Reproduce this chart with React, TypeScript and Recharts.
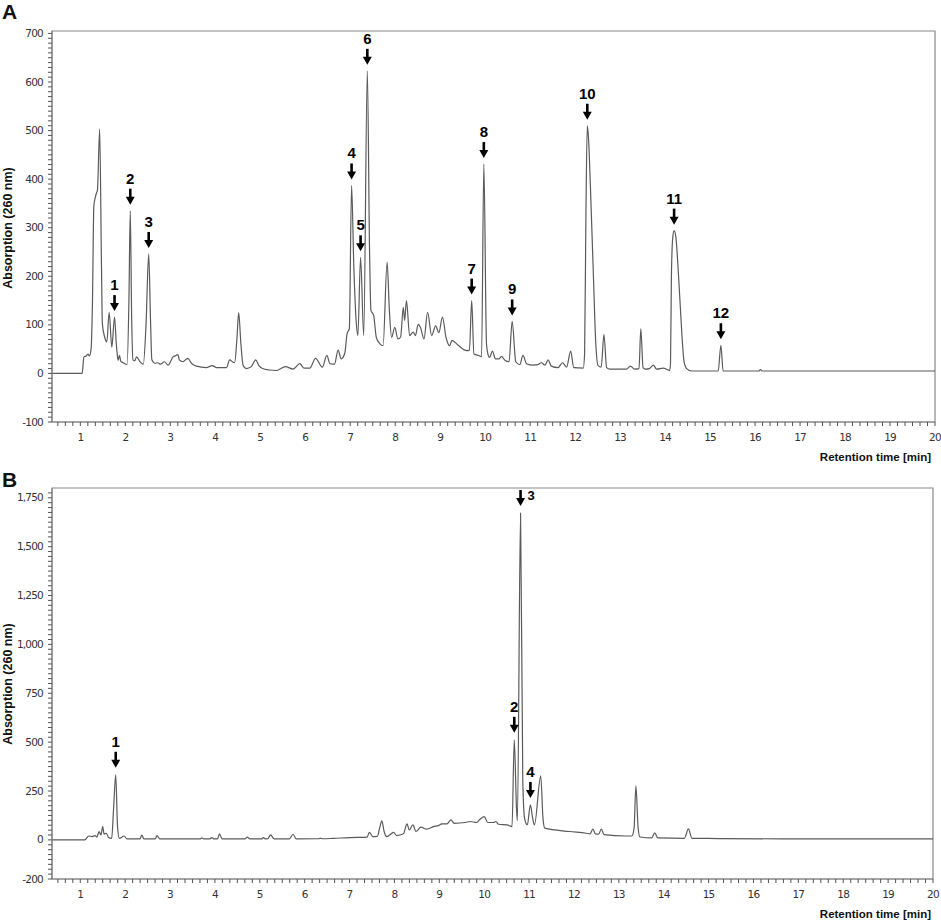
import { LineChart, Line, XAxis, YAxis, ReferenceArea, ReferenceDot } from "recharts";

// Panel A: retention time [min] and absorption (260 nm)
const timeA = [
  0.37, 1.04, 1.08, 1.13, 1.17, 1.2, 1.24, 1.27, 1.3, 1.34, 1.36, 1.38, 1.43, 1.47, 1.49, 1.54, 1.59, 1.64, 1.7, 1.76,
  1.8, 1.82, 1.84, 1.87, 1.9, 1.95, 2.04, 2.08, 2.11, 2.14, 2.17, 2.21, 2.25, 2.32, 2.4, 2.46, 2.52, 2.56, 2.59, 2.66,
  2.72, 2.78, 2.87, 2.95, 3.06, 3.13, 3.17, 3.2, 3.28, 3.34, 3.39, 3.47, 3.58, 3.8, 3.93, 4.03, 4.25, 4.32, 4.38, 4.43,
  4.48, 4.52, 4.57, 4.62, 4.69, 4.8, 4.9, 4.97, 5.05, 5.2, 5.36, 5.56, 5.73, 5.88, 5.97, 6.1, 6.23, 6.38, 6.48, 6.55,
  6.65, 6.73, 6.8, 6.88, 6.93, 6.98, 7.03, 7.08, 7.13, 7.17, 7.23, 7.3, 7.38, 7.43, 7.46, 7.52, 7.58, 7.66, 7.73, 7.82,
  7.87, 7.92, 7.99, 8.06, 8.12, 8.18, 8.21, 8.25, 8.32, 8.4, 8.45, 8.51, 8.56, 8.64, 8.72, 8.81, 8.9, 8.97, 9.05, 9.13,
  9.21, 9.26, 9.4, 9.59, 9.65, 9.7, 9.75, 9.88, 9.92, 9.97, 10.03, 10.07, 10.1, 10.16, 10.23, 10.31, 10.36, 10.44, 10.53, 10.6,
  10.68, 10.77, 10.84, 10.92, 11.06, 11.17, 11.25, 11.33, 11.4, 11.47, 11.62, 11.72, 11.81, 11.9, 11.97, 12.18, 12.21, 12.24, 12.27, 12.3,
  12.34, 12.4, 12.46, 12.51, 12.58, 12.64, 12.7, 12.77, 13.14, 13.23, 13.32, 13.42, 13.46, 13.51, 13.56, 13.65, 13.74, 13.81, 13.96, 14.1,
  14.12, 14.14, 14.17, 14.2, 14.24, 14.28, 14.33, 14.38, 14.42, 14.48, 14.59, 15.18, 15.24, 15.29, 16.08, 16.12, 16.16, 20,
];
const absA = [
  0, 0, 34, 36, 40, 36, 51, 150, 345, 365, 372, 377, 503, 220, 102, 75, 65, 126, 54, 116,
  60, 40, 27, 37, 25, 22, 18, 150, 335, 120, 28, 26, 34, 25, 19, 100, 246, 110, 28, 21,
  22, 19, 24, 17, 34, 37, 39, 28, 24, 28, 31, 21, 15, 12, 16, 12, 12, 28, 24, 22,
  70, 125, 60, 16, 10, 14, 28, 16, 10, 7, 6, 14, 9, 20, 11, 11, 31, 13, 37, 20,
  19, 48, 30, 42, 82, 92, 387, 219, 110, 78, 239, 78, 623, 250, 130, 120, 74, 61, 57, 229,
  130, 74, 95, 71, 75, 136, 109, 150, 78, 85, 78, 101, 95, 71, 126, 78, 98, 84, 116, 74,
  57, 68, 58, 47, 48, 150, 40, 36, 34, 431, 60, 37, 33, 46, 30, 30, 35, 27, 24, 107,
  24, 18, 37, 20, 17, 18, 22, 17, 28, 15, 12, 22, 13, 46, 12, 11, 40, 330, 510, 480,
  383, 218, 60, 16, 13, 80, 12, 9, 9, 15, 9, 10, 92, 12, 9, 10, 17, 9, 11, 6,
  20, 200, 280, 294, 280, 230, 150, 70, 25, 10, 5, 5, 58, 5, 5, 8, 5, 5,
];
const peakTimeA = [1.76, 2.11, 2.52, 7.03, 7.23, 7.38, 9.7, 9.97, 10.6, 12.27, 14.2, 15.24];
const peakAbsA = [116, 335, 246, 387, 239, 623, 150, 431, 107, 510, 294, 58];
const peakNameA = ["1", "2", "3", "4", "5", "6", "7", "8", "9", "10", "11", "12"];

// Panel B
const timeB = [
  0.37, 1.1, 1.19, 1.26, 1.33, 1.37, 1.42, 1.46, 1.5, 1.53, 1.58, 1.63, 1.7, 1.74, 1.79, 1.83, 1.87, 1.98, 2.04, 2.33,
  2.37, 2.42, 2.67, 2.71, 2.77, 3.67, 3.71, 3.76, 3.88, 3.93, 3.98, 4.06, 4.1, 4.16, 4.67, 4.72, 4.78, 5.04, 5.08, 5.13,
  5.18, 5.24, 5.32, 5.66, 5.74, 5.81, 6.31, 6.35, 6.4, 6.64, 7.01, 7.39, 7.44, 7.52, 7.62, 7.67, 7.72, 7.77, 7.83, 7.9,
  7.98, 8.05, 8.2, 8.28, 8.33, 8.41, 8.48, 8.59, 8.72, 8.87, 8.98, 9.06, 9.17, 9.26, 9.33, 9.58, 9.69, 9.83, 9.89, 10,
  10.08, 10.21, 10.26, 10.32, 10.51, 10.62, 10.67, 10.72, 10.74, 10.81, 10.86, 10.9, 10.96, 11.03, 11.08, 11.12, 11.26, 11.31, 11.35, 11.9,
  12.27, 12.36, 12.42, 12.48, 12.55, 12.61, 12.67, 13.15, 13.29, 13.34, 13.38, 13.43, 13.47, 13.73, 13.8, 13.87, 14.46, 14.55, 14.63, 15.24,
  17.1, 20,
];
const absB = [
  0, 0, 20, 17, 22, 15, 43, 25, 68, 30, 34, 12, 8, 150, 333, 68, 8, 20, 5, 5,
  25, 5, 5, 22, 5, 5, 10, 5, 5, 12, 5, 5, 31, 5, 5, 14, 5, 5, 12, 5,
  6, 26, 5, 5, 29, 5, 6, 9, 6, 8, 12, 14, 38, 17, 18, 60, 97, 43, 17, 26,
  38, 22, 31, 82, 51, 77, 43, 65, 55, 68, 73, 82, 82, 102, 85, 89, 94, 89, 102, 119,
  89, 89, 94, 80, 77, 68, 512, 160, 99, 1672, 300, 110, 77, 179, 110, 77, 328, 110, 60, 43,
  34, 31, 55, 31, 30, 55, 27, 20, 20, 60, 276, 60, 15, 10, 36, 10, 8, 56, 8, 7,
  5, 5,
];
const peakTimeB = [1.79, 10.67, 10.81, 11.03];
const peakAbsB = [333, 512, 1672, 179];
const peakNameB = ["1", "2", "3", "4"];

const xLabels = [1, 2, 3, 4, 5, 6, 7, 8, 9, 10, 11, 12, 13, 14, 15, 16, 17, 18, 19, 20];
const yLabelsA = [-100, 0, 100, 200, 300, 400, 500, 600, 700];
const yLabelsB = [-200, 0, 250, 500, 750, 1000, 1250, 1500, 1750];

const X_MIN = 0.37;
const X_MAX = 20;
const TICK_FONT = "'DejaVu Sans', sans-serif";
const TITLE_FONT = "'Liberation Sans', Arial, sans-serif";

// minor tick positions: 10 s steps on x, fixed steps on y
const xTicks: number[] = [];
for (let k = 3; k <= 120; k++) xTicks.push(k / 6);
const yTicksA: number[] = [];
for (let v = -100; v <= 700; v += 10) yTicksA.push(v);
const yTicksB: number[] = [];
for (let v = -200; v <= 1775; v += 25) yTicksB.push(v);

function XTick(props: any) {
  const { x, y, payload } = props;
  const v = Math.round(payload.value);
  if (Math.abs(payload.value - v) > 1e-6 || !xLabels.includes(v)) return <g />;
  return (
    <text x={x} y={y} dy={13} textAnchor="middle" fill="#333" fontSize={10.5} fontFamily={TICK_FONT} letterSpacing={-0.8}>
      {v}
    </text>
  );
}

function YTick(props: any) {
  const { x, y, payload, labels } = props;
  if (!labels.includes(payload.value)) return <g />;
  return (
    <text x={x} y={y} dx={-3} dy={3.5} textAnchor="end" fill="#333" fontSize={10.5} fontFamily={TICK_FONT} letterSpacing={-0.8}>
      {payload.value.toLocaleString("en-US")}
    </text>
  );
}

function PeakArrow({ cx, cy, name, beside, gap }: any) {
  if (cx == null || cy == null) return <g />;
  const tip = cy - gap;
  return (
    <g>
      <line x1={cx} x2={cx} y1={tip - 16} y2={tip - 6} stroke="#000" strokeWidth={2.6} />
      <polygon points={`${cx - 4.5},${tip - 8} ${cx + 4.5},${tip - 8} ${cx},${tip}`} fill="#000" />
      {beside ? (
        <text x={cx + 7} y={tip - 6} fontSize={13} fontWeight="bold" fontFamily={TITLE_FONT} fill="#000">
          {name}
        </text>
      ) : (
        <text x={cx} y={tip - 21} textAnchor="middle" fontSize={15} fontWeight="bold" fontFamily={TITLE_FONT} fill="#000">
          {name}
        </text>
      )}
    </g>
  );
}

function Panel({ times, values, peakTimes, peakValues, peakNames, yDomain, yTicks, yLabels, height, margin, beside, gap }: any) {
  const rows = times.map((t: number, i: number) => ({ t, v: values[i] }));
  return (
    <LineChart width={941} height={height} data={rows} margin={margin}>
      <XAxis
        type="number"
        dataKey="t"
        domain={[X_MIN, X_MAX]}
        ticks={xTicks}
        interval={0}
        allowDataOverflow
        height={30}
        tickSize={4}
        tickMargin={2}
        axisLine={{ stroke: "#888", strokeWidth: 1.2 }}
        tickLine={{ stroke: "#555" }}
        tick={XTick}
      />
      <YAxis
        type="number"
        domain={yDomain}
        ticks={yTicks}
        interval={0}
        allowDataOverflow
        width={52}
        tickSize={4}
        tickMargin={2}
        axisLine={{ stroke: "#888", strokeWidth: 1.2 }}
        tickLine={{ stroke: "#555" }}
        tick={(p: any) => <YTick {...p} labels={yLabels} />}
      />
      <ReferenceArea x1={X_MIN} x2={X_MAX} y1={yDomain[0]} y2={yDomain[1]} fill="none" stroke="#888" strokeWidth={1.2} />
      <Line type="monotone" dataKey="v" stroke="#5a5a5a" strokeWidth={1.2} dot={false} isAnimationActive={false} />
      {peakTimes.map((t: number, i: number) => (
        <ReferenceDot
          key={peakNames[i]}
          x={t}
          y={peakValues[i]}
          r={0}
          shape={(s: any) => (
            <PeakArrow cx={s.cx} cy={s.cy} name={peakNames[i]} beside={beside.includes(peakNames[i])} gap={gap} />
          )}
        />
      ))}
    </LineChart>
  );
}

export default function App() {
  return (
    <div style={{ position: "absolute", left: 0, top: 0, width: 941, height: 923, background: "#fff" }}>
      <div style={{ position: "absolute", left: 0, top: 0 }}>
        <Panel
          times={timeA}
          values={absA}
          peakTimes={peakTimeA}
          peakValues={peakAbsA}
          peakNames={peakNameA}
          yDomain={[-100, 705]}
          yTicks={yTicksA}
          yLabels={yLabelsA}
          height={460}
          margin={{ top: 31, right: 6, bottom: 8, left: 0 }}
          beside={[]}
          gap={6}
        />
      </div>
      <div style={{ position: "absolute", left: 0, top: 460 }}>
        <Panel
          times={timeB}
          values={absB}
          peakTimes={peakTimeB}
          peakValues={peakAbsB}
          peakNames={peakNameB}
          yDomain={[-200, 1800]}
          yTicks={yTicksB}
          yLabels={yLabelsB}
          height={463}
          margin={{ top: 28, right: 8, bottom: 14, left: 0 }}
          beside={["3"]}
          gap={7}
        />
      </div>
      <svg width={941} height={923} style={{ position: "absolute", left: 0, top: 0, pointerEvents: "none" }}>
        <g fontFamily={TITLE_FONT} fontWeight="bold" fill="#111">
          <text x={2} y={19} fontSize={21}>A</text>
          <text x={2} y={487} fontSize={21}>B</text>
          <text x={8} y={228} fontSize={12.5} textAnchor="middle" dominantBaseline="central" transform="rotate(-90, 8, 228)">
            Absorption (260 nm)
          </text>
          <text x={8} y={684} fontSize={12.5} textAnchor="middle" dominantBaseline="central" transform="rotate(-90, 8, 684)">
            Absorption (260 nm)
          </text>
          <text x={931} y={461} fontSize={11.5} textAnchor="end">Retention time [min]</text>
          <text x={931} y={918} fontSize={11.5} textAnchor="end">Retention time [min]</text>
        </g>
      </svg>
    </div>
  );
}
